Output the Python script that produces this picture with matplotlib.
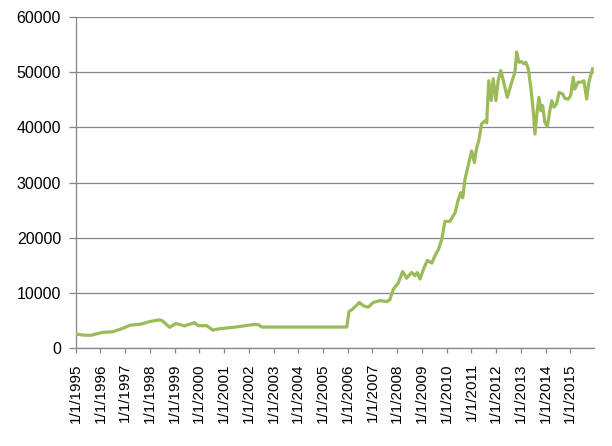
import matplotlib.pyplot as plt

# values (decimal year, value)
years = [
    1995.00, 1995.30, 1995.60, 1996.10, 1996.50, 1996.90, 1997.20, 1997.60,
    1998.00, 1998.40, 1998.50, 1998.80, 1999.05, 1999.40, 1999.80, 1999.96,
    2000.30, 2000.54, 2000.83, 2001.37, 2001.78, 2002.18, 2002.38, 2002.52,
    2005.96, 2006.05, 2006.20, 2006.47, 2006.63, 2006.83, 2007.03, 2007.30,
    2007.57, 2007.70, 2007.84, 2008.04, 2008.22, 2008.38, 2008.58, 2008.72,
    2008.81, 2008.92, 2009.08, 2009.22, 2009.40, 2009.53, 2009.66, 2009.80,
    2009.93, 2010.13, 2010.34, 2010.47, 2010.57, 2010.65, 2010.74, 2010.88,
    2011.01, 2011.12, 2011.20, 2011.31, 2011.41, 2011.55, 2011.62, 2011.70,
    2011.80, 2011.88, 2011.99, 2012.08, 2012.19, 2012.32, 2012.45, 2012.63,
    2012.76, 2012.83, 2012.92, 2013.03, 2013.12, 2013.20, 2013.30, 2013.41,
    2013.50, 2013.57, 2013.66, 2013.73, 2013.81, 2013.88, 2013.97, 2014.07,
    2014.17, 2014.25, 2014.34, 2014.44, 2014.55, 2014.69, 2014.78, 2014.91,
    2015.01, 2015.12, 2015.18, 2015.32, 2015.46, 2015.55, 2015.66, 2015.75,
    2015.90,
]
values = [
    2600, 2400, 2350, 2900, 3000, 3600, 4200, 4350,
    4850, 5150, 5000, 3800, 4500, 4050, 4650, 4100,
    4100, 3300, 3550, 3800, 4050, 4300, 4300, 3850,
    3850, 6650, 7100, 8300, 7700, 7450, 8300, 8650,
    8450, 8800, 10700, 11800, 13900, 12700, 13750, 13150,
    13750, 12550, 14550, 15900, 15450, 16800, 17850, 19700,
    23000, 23000, 24550, 26950, 28200, 27250, 30600, 33300,
    35750, 33650, 36050, 37850, 40600, 41200, 40800, 48450,
    44850, 48800, 44850, 48450, 50300, 47900, 45450, 48200,
    50000, 53650, 51800, 51900, 51500, 51800, 50600, 46950,
    43000, 38800, 43000, 45450, 43000, 43950, 40900, 40200,
    43000, 44850, 43650, 44250, 46350, 46050, 45250, 45100,
    45750, 49100, 46950, 48200, 48200, 48450, 45150, 48200,
    50600,
]

tick_years = list(range(1995, 2016))
tick_labels = ["1/1/%d" % y for y in tick_years]
y_ticks = [0, 10000, 20000, 30000, 40000, 50000, 60000]

plt.rcParams['font.family'] = ['Liberation Sans', 'DejaVu Sans']

fig = plt.figure(figsize=(6.12, 4.46), dpi=100)
ax = fig.add_axes([0.1237, 0.219, 0.847, 0.743])

grid_col = '#868686'
ax.plot(years, values, color='#9BBB59', linewidth=2.3, solid_joinstyle='round', zorder=3)

ax.set_xlim(1995, 2015.96)
ax.set_ylim(0, 60000)
ax.set_yticks(y_ticks)
ax.set_yticklabels([str(v) for v in y_ticks])
ax.set_xticks(tick_years)
ax.set_xticklabels(tick_labels, rotation=90)

ax.yaxis.grid(True, color=grid_col, linewidth=0.9)
ax.set_axisbelow(True)

for side in ['top', 'right']:
    ax.spines[side].set_visible(False)
for side in ['left', 'bottom']:
    ax.spines[side].set_color(grid_col)
    ax.spines[side].set_linewidth(0.9)

ax.tick_params(axis='y', length=5, width=0.9, color=grid_col, pad=5.5, labelsize=11.5)
ax.tick_params(axis='x', length=3.6, width=0.9, color=grid_col, pad=7, labelsize=11)

plt.savefig('out.png', dpi=100)
